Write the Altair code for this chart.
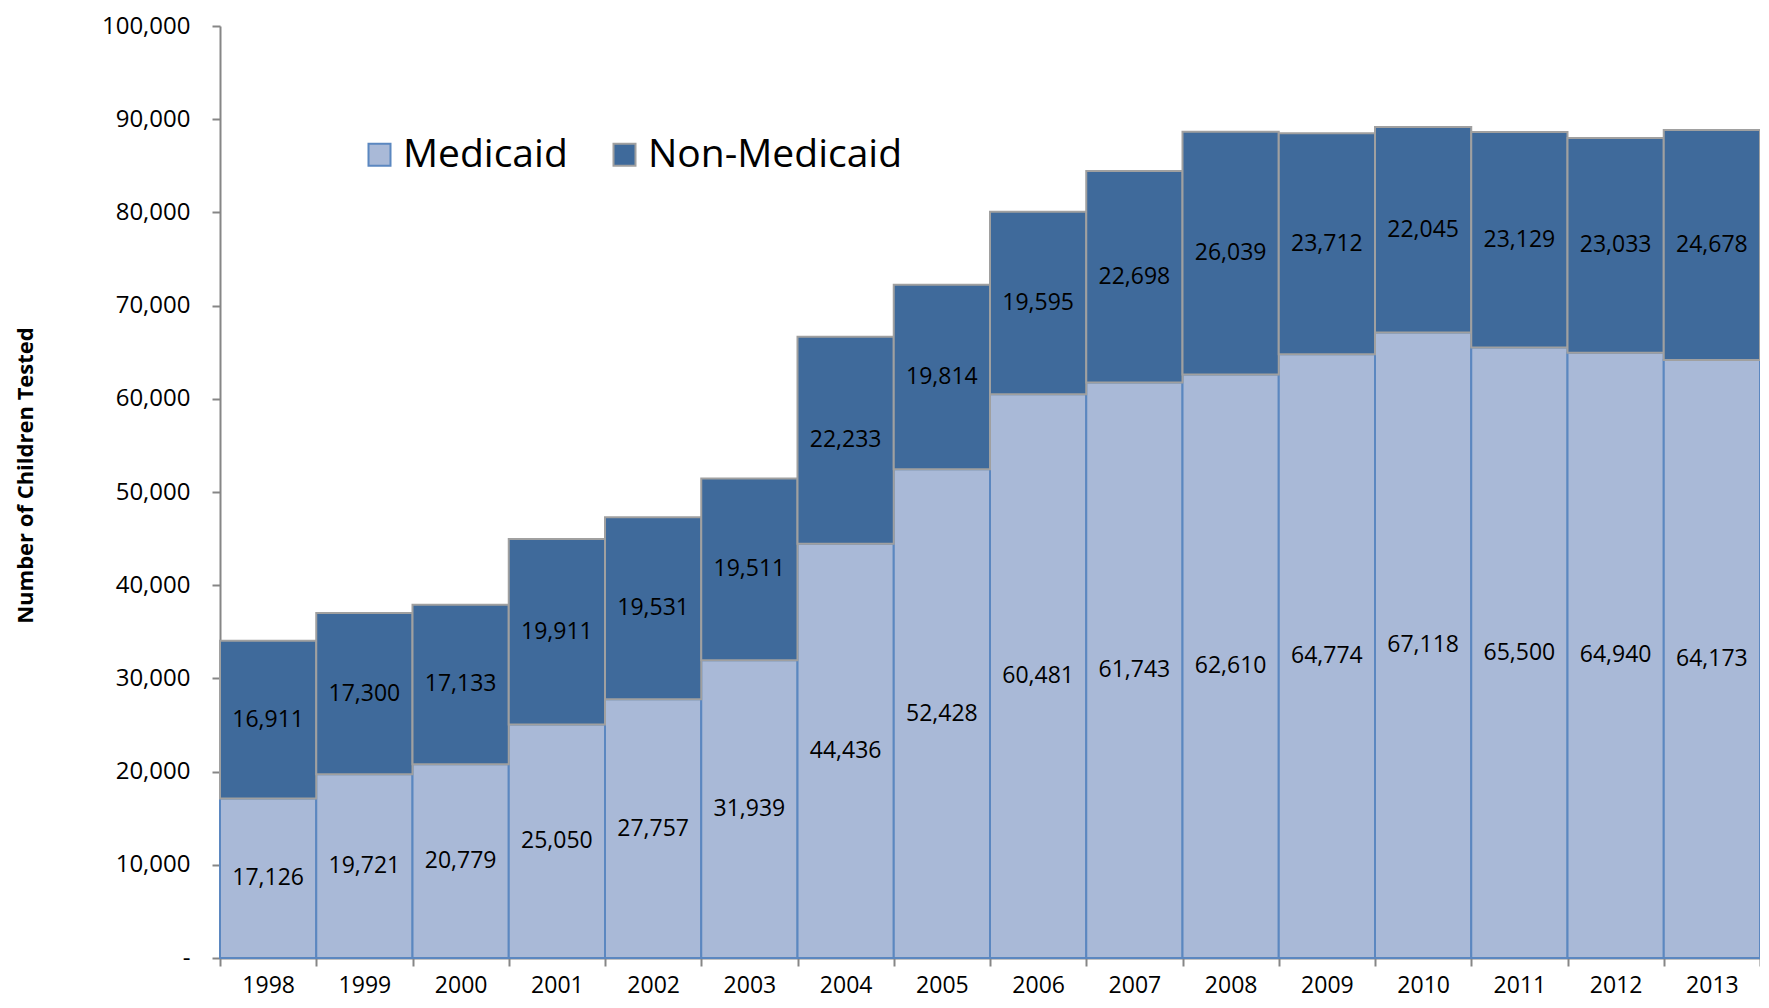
import altair as alt
import pandas as pd

years = ["1998", "1999", "2000", "2001", "2002", "2003", "2004", "2005",
         "2006", "2007", "2008", "2009", "2010", "2011", "2012", "2013"]
medicaid = [17126, 19721, 20779, 25050, 27757, 31939, 44436, 52428,
            60481, 61743, 62610, 64774, 67118, 65500, 64940, 64173]
non_medicaid = [16911, 17300, 17133, 19911, 19531, 19511, 22233, 19814,
                19595, 22698, 26039, 23712, 22045, 23129, 23033, 24678]
series = ["Medicaid", "Non-Medicaid"]
fill_colors = ["#A9B9D7", "#3F6A9B"]
stroke_colors = ["#5B87C0", "#A0A0A0"]
y_ticks = [0, 10000, 20000, 30000, 40000, 50000, 60000, 70000, 80000, 90000, 100000]

rows = []
for k, vals in enumerate([medicaid, non_medicaid]):
    for yr, v in zip(years, vals):
        rows.append({"year": yr, "series": series[k], "k": k, "value": v})
df = pd.DataFrame(rows)

FONT = "Open Sans"

base = alt.Chart(df).transform_stack(
    stack="value", groupby=["year"], as_=["y0", "y1"],
    sort=[alt.SortField("k", order="ascending")]
).transform_calculate(mid="(datum.y0 + datum.y1) / 2")

x_enc = alt.X("year:N", sort=years,
              scale=alt.Scale(paddingInner=0, paddingOuter=0),
              axis=alt.Axis(title=None, labelAngle=0, tickBand="extent",
                            tickSize=8, tickColor="#868686", tickWidth=2,
                            domainColor="#868686", domainWidth=2,
                            labelFont=FONT, labelFontSize=23, labelColor="#000000",
                            labelPadding=8))

bars = base.mark_bar(strokeWidth=2).encode(
    x=x_enc,
    y=alt.Y("y1:Q", scale=alt.Scale(domain=[0, 100000], nice=False),
            axis=alt.Axis(title="Number of Children Tested", values=y_ticks,
                          labelExpr="datum.value == 0 ? '-\u00a0\u00a0' : format(datum.value, ',')",
                          grid=False, tickSize=8, tickColor="#868686", tickWidth=2,
                          domainColor="#868686", domainWidth=2,
                          labelFont=FONT, labelFontSize=24, labelColor="#000000",
                          labelPadding=22,
                          titleFont=FONT, titleFontSize=22, titleFontWeight="bold",
                          titleColor="#000000", titleX=-195, titleY=449,
                          titleBaseline="middle", titleAngle=270)),
    y2="y0:Q",
    fill=alt.Fill("series:N", scale=alt.Scale(domain=series, range=fill_colors),
                  legend=alt.Legend(title=None, orient="none", direction="horizontal",
                                    legendX=140, legendY=109,
                                    symbolType="square", symbolSize=484,
                                    symbolStrokeWidth=2, labelFont=FONT,
                                    labelFontSize=39, labelColor="#000000",
                                    labelLimit=0,
                                    labelOffset=4, columnPadding=37)),
    stroke=alt.Stroke("series:N", scale=alt.Scale(domain=series, range=stroke_colors)),
    order=alt.Order("k:Q"),
)

labels = base.mark_text(font=FONT, fontSize=23, color="#000000", baseline="middle").encode(
    x=alt.X("year:N", sort=years),
    y=alt.Y("mid:Q"),
    text=alt.Text("value:Q", format=","),
)

chart = alt.layer(bars, labels).properties(
    width=1540, height=932,
    padding={"left": 212, "top": 18, "right": 0, "bottom": 42},
    autosize=alt.AutoSizeParams(type="none"),
).configure_view(stroke=None)

chart.save("out.html", embed_options={"renderer": "svg", "actions": False})
